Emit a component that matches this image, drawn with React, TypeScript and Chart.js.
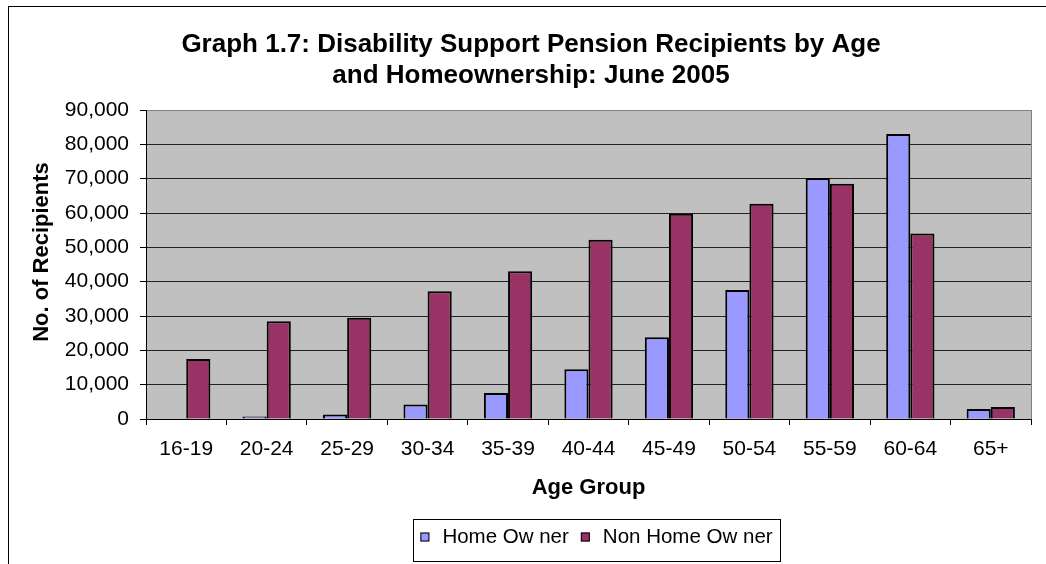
import React, { useEffect, useRef } from "react";
import { Chart, registerables } from "chart.js";

Chart.register(...registerables);

const categories = ["16-19", "20-24", "25-29", "30-34", "35-39", "40-44", "45-49", "50-54", "55-59", "60-64", "65+"];
const homeOwner = [0, 700, 1300, 4200, 7600, 14500, 23800, 37600, 70200, 83000, 2900];
const nonHomeOwner = [17500, 28500, 29500, 37200, 43000, 52200, 59800, 62700, 68500, 54000, 3500];
const yTicks = [0, 10000, 20000, 30000, 40000, 50000, 60000, 70000, 80000, 90000];
const titleLines = ["Graph 1.7: Disability Support Pension Recipients by Age", "and Homeownership: June 2005"];
const seriesLabels = ["Home Ow ner", "Non Home Ow ner"];
const yAxisTitle = "No. of Recipients";
const xAxisTitle = "Age Group";

const FONT = "'Liberation Sans', Arial, sans-serif";

const bgPlugin = {
  id: "plotBg",
  beforeDraw(chart: any) {
    const { ctx, chartArea } = chart;
    ctx.save();
    ctx.fillStyle = "#C0C0C0";
    ctx.fillRect(chartArea.left, chartArea.top, chartArea.right - chartArea.left, chartArea.bottom - chartArea.top);
    ctx.restore();
  },
  afterDraw(chart: any) {
    const { ctx, chartArea } = chart;
    ctx.save();
    ctx.strokeStyle = "#808080";
    ctx.lineWidth = 1;
    ctx.beginPath();
    ctx.moveTo(Math.round(chartArea.right) + 0.5, chartArea.top);
    ctx.lineTo(Math.round(chartArea.right) + 0.5, chartArea.bottom);
    ctx.stroke();

    // y axis title
    ctx.save();
    ctx.translate(42, 252);
    ctx.rotate(-Math.PI / 2);
    ctx.font = "bold 22px " + FONT;
    ctx.fillStyle = "#000";
    ctx.textAlign = "center";
    ctx.textBaseline = "middle";
    ctx.fillText(yAxisTitle, 0, 0);
    ctx.restore();

    // legend box
    const boxL = 413, boxT = 519, boxW = 367, boxH = 42;
    ctx.fillStyle = "#fff";
    ctx.fillRect(boxL, boxT, boxW, boxH);
    ctx.strokeStyle = "#000";
    ctx.strokeRect(boxL + 0.5, boxT + 0.5, boxW, boxH);
    ctx.font = "20.5px " + FONT;
    ctx.textBaseline = "middle";
    ctx.textAlign = "left";
    const sq = 9, gapSq = 13, gapItem = 12;
    const items = chart.data.datasets.map((d: any) => ({ label: d.label, color: d.backgroundColor }));
    let total = 0;
    items.forEach((it: any, i: number) => {
      total += sq + gapSq + ctx.measureText(it.label).width;
      if (i < items.length - 1) total += gapItem;
    });
    let x = boxL + (boxW - total) / 2;
    const cy = boxT + boxH / 2 - 3;
    items.forEach((it: any) => {
      ctx.fillStyle = it.color;
      ctx.fillRect(x, cy - sq / 2, sq, sq);
      ctx.strokeStyle = "#000";
      ctx.strokeRect(x + 0.5, cy - sq / 2 + 0.5, sq - 1, sq - 1);
      x += sq + gapSq;
      ctx.fillStyle = "#000";
      ctx.fillText(it.label, x, cy);
      x += ctx.measureText(it.label).width + gapItem;
    });
    ctx.restore();
  },
};

export default function App() {
  const ref = useRef<HTMLCanvasElement | null>(null);
  useEffect(() => {
    if (!ref.current) return;
    const chart = new Chart(ref.current, {
      type: "bar",
      data: {
        labels: categories,
        datasets: [
          { label: seriesLabels[0], data: homeOwner, backgroundColor: "#9999FF", borderColor: "#000", borderWidth: 2, categoryPercentage: 0.6, barPercentage: 1.0 },
          { label: seriesLabels[1], data: nonHomeOwner, backgroundColor: "#993366", borderColor: "#000", borderWidth: 2, categoryPercentage: 0.6, barPercentage: 1.0 },
        ],
      },
      options: {
        responsive: false,
        animation: false,
        devicePixelRatio: 1,
        layout: { padding: { left: 31, right: 15, top: 0, bottom: 60 } },
        plugins: {
          legend: { display: false },
          tooltip: { enabled: false },
          title: {
            display: true,
            text: titleLines,
            color: "#000",
            font: { family: FONT, size: 26, weight: "bold", lineHeight: 31 / 26 },
            padding: { top: 29.5, bottom: 18.5 },
          },
        },
        scales: {
          x: {
            offset: true,
            grid: { drawOnChartArea: false, drawTicks: true, tickLength: 6, color: "#000", offset: true },
            border: { color: "#000", width: 1 },
            ticks: { color: "#000", font: { family: FONT, size: 21 }, padding: 12, maxRotation: 0, autoSkip: false },
            title: { display: true, text: xAxisTitle, color: "#000", font: { family: FONT, size: 22, weight: "bold", lineHeight: 1.2 }, padding: { top: 0, bottom: 3 } },
            afterFit: (s: any) => { s.height = 85; },
          },
          y: {
            min: 0,
            max: 90000,
            afterBuildTicks: (s: any) => { s.ticks = yTicks.map((v) => ({ value: v })); },
            grid: {
              color: (c: any) => (c.tick && c.tick.value === 90000 ? "#808080" : "#222"),
              tickColor: "#000",
              tickLength: 6,
              lineWidth: 1,
            },
            border: { color: "#000", width: 1 },
            ticks: {
              color: "#000",
              font: { family: FONT, size: 21 },
              padding: 11,
              callback: (v: any) => Number(v).toLocaleString("en-US"),
            },
            title: { display: false },
            afterFit: (s: any) => { s.width = 115; },
          },
        },
      },
      plugins: [bgPlugin],
    });
    return () => chart.destroy();
  }, []);
  return (
    <div style={{ position: "fixed", left: 0, top: 0, width: 1046, height: 564, overflow: "hidden", background: "#fff" }}>
      <div style={{ position: "absolute", left: 8, top: 6, width: 2000, height: 2000, borderLeft: "1px solid #000", borderTop: "1px solid #000" }} />
      <canvas ref={ref} width={1046} height={564} style={{ position: "absolute", left: 0, top: 0, width: 1046, height: 564 }} />
    </div>
  );
}
